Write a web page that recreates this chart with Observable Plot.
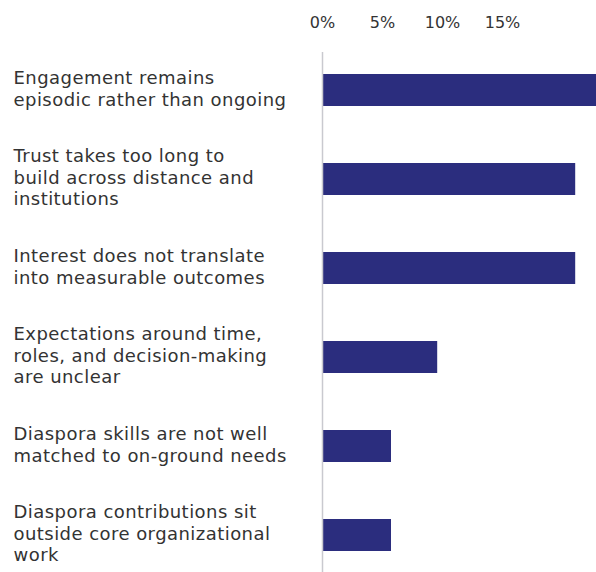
<!DOCTYPE html>
<html>
<head>
<meta charset="utf-8">
<script src="https://cdn.jsdelivr.net/npm/d3@7"></script>
<script src="https://cdn.jsdelivr.net/npm/@observablehq/plot@0.6"></script>
<style>
  html, body { margin: 0; padding: 0; background: #fff; overflow: hidden; }
  #chart { width: 596px; height: 572px; }
  .ylab text { letter-spacing: 0.45px; }
</style>
</head>
<body>
<div id="chart"></div>
<script>
const categories = [
  "Engagement remains\nepisodic rather than ongoing",
  "Trust takes too long to\nbuild across distance and\ninstitutions",
  "Interest does not translate\ninto measurable outcomes",
  "Expectations around time,\nroles, and decision-making\nare unclear",
  "Diaspora skills are not well\nmatched to on-ground needs",
  "Diaspora contributions sit\noutside core organizational\nwork"
];
const values = [23, 21.1, 21.1, 9.6, 5.75, 5.75];
const tickValues = [0, 5, 10, 15];

const data = categories.map((c, i) => ({category: c, value: values[i]}));

const chart = Plot.plot({
  width: 596,
  height: 572,
  marginLeft: 322,
  marginRight: 0,
  marginTop: 52,
  marginBottom: 0,
  style: {fontFamily: "DejaVu Sans", fontSize: "17px", color: "#333", background: "#fff"},
  x: {domain: [0, 274 / 12], axis: null, label: null},
  y: {domain: categories, paddingInner: 0.644, paddingOuter: 0.211, axis: null, label: null},
  marks: [
    Plot.barX(data, {y: "category", x: "value", fill: "#2b2d7e", clip: true}),
    Plot.ruleX([0], {stroke: "#c9c9cf", strokeWidth: 1.5}),
    Plot.axisX({anchor: "top", ticks: tickValues, tickSize: 0, tickPadding: 25, label: null,
      tickFormat: d => d + "%", fontSize: 16, fill: "#333"}),
    Plot.axisY({anchor: "left", tickSize: 0, textAnchor: "start", dx: -300, dy: -3, label: null,
      lineHeight: 1.22, fill: "#333", fontSize: 18, className: "ylab", tickFormat: d => d})
  ]
});
document.getElementById("chart").appendChild(chart);
</script>
</body>
</html>
